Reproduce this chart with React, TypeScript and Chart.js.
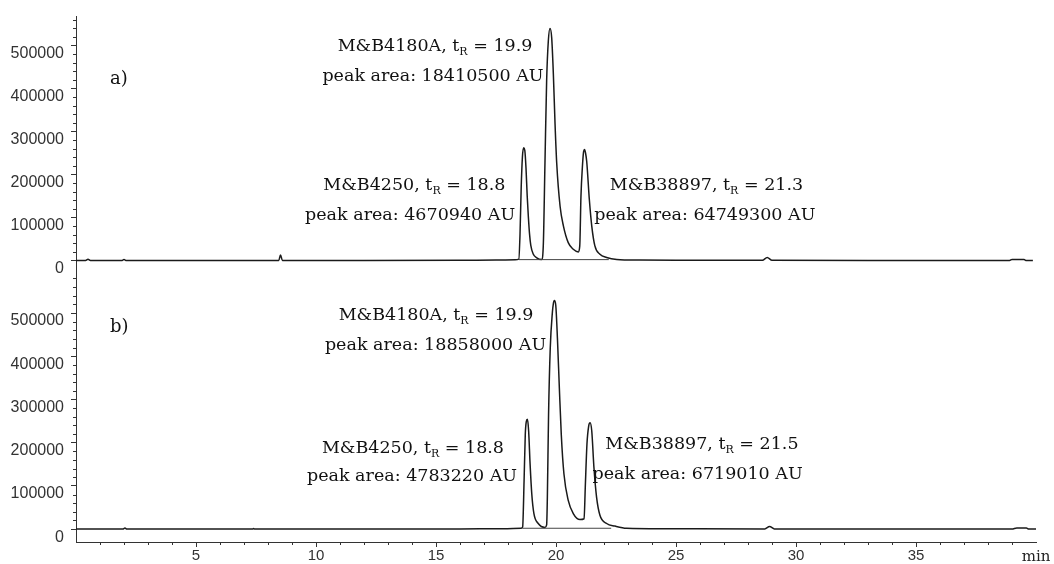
import React, { useEffect, useRef } from "react";
import { Chart, registerables } from "chart.js";

Chart.register(...registerables);

// ---- Chromatogram a) ----
const TIME_A = [
  0, 0.4, 0.5, 0.6, 1.9, 2.0, 2.1, 5.0, 8.45, 8.52, 8.6, 12.0, 16.0, 17.5, 18.3,
  18.45, 18.5, 18.55, 18.6, 18.65, 18.7, 18.75, 18.8, 18.85, 18.9, 18.95, 19.05, 19.2, 19.4,
  19.47, 19.54, 19.61, 19.68, 19.75, 19.82, 19.89, 19.96, 20.03, 20.17, 20.31, 20.51, 20.72, 20.93,
  20.99, 21.04, 21.1, 21.15, 21.19, 21.23, 21.28, 21.39, 21.49, 21.62, 21.83, 22.11, 22.53,
  23.5, 25.0, 28.6, 28.8, 29.0, 33.0, 38.9, 39.0, 39.5, 39.6, 39.87,
];
const SIGNAL_A = [
  0, 0, 3000, 0, 0, 2000, 0, 0, 0, 13000, 0, 0, 500, 1000, 1500,
  3000, 60000, 170000, 240000, 262000, 256000, 215000, 150000, 100000, 60000, 35000, 15000, 6000, 2000,
  34000, 226000, 418000, 510000, 539000, 518000, 433000, 318000, 226000, 126000, 80000, 41500, 26000, 20000,
  34000, 149000, 218000, 253000, 258000, 250000, 230000, 141000, 80000, 34000, 14500, 7000, 2500,
  1000, 500, 500, 7000, 500, 0, 0, 2500, 2000, 0, 0,
];
const BASE_TIME_A = [18.45, 22.2];
const BASE_SIGNAL_A = [2000, 2000];

// ---- Chromatogram b) ----
const TIME_B = [
  0, 1.95, 2.04, 2.12, 7.35, 7.4, 7.45, 12.0, 16.0, 17.8, 18.55,
  18.61, 18.67, 18.72, 18.76, 18.81, 18.86, 18.92, 18.99, 19.08, 19.26, 19.54,
  19.61, 19.64, 19.69, 19.76, 19.85, 19.89, 19.93, 19.99, 20.06, 20.14, 20.22, 20.33, 20.51, 20.72, 21.0,
  21.17, 21.22, 21.29, 21.36, 21.42, 21.49, 21.58, 21.69, 21.83, 22.11, 22.46, 22.94,
  24.5, 28.7, 28.9, 29.1, 33.0, 39.0, 39.2, 39.6, 39.7, 40.0,
];
const SIGNAL_B = [
  0, 0, 2500, 0, 0, 1500, 0, 0, 500, 1000, 2000,
  5000, 112000, 219000, 248000, 254000, 227000, 151000, 82000, 36000, 13000, 4000,
  10000, 74000, 265000, 418000, 502000, 522000, 529000, 518000, 441000, 326000, 219000, 128000, 66500, 36000, 22000,
  24000, 97000, 197000, 238000, 246000, 227000, 143000, 74000, 32000, 13000, 7000, 2000,
  1000, 500, 6000, 500, 0, 0, 2500, 2500, 0, 0,
];
const BASE_TIME_B = [18.6, 22.3];
const BASE_SIGNAL_B = [2000, 2000];

// ---- Axes ----
const X_TICKS = [5, 10, 15, 20, 25, 30, 35];
const Y_TICKS = [0, 100000, 200000, 300000, 400000, 500000];
const X_MINOR_STEP = 1;
const Y_MINOR_STEP = 20000;
const X_UNIT = "min";

// ---- Annotations ----
const PANEL_LABELS = ["a)", "b)"];
const NAMES = ["M&B4180A", "M&B4250", "M&B38897"];
const TR_A = ["19.9", "18.8", "21.3"];
const AREA_A = ["18410500", "4670940", "64749300"];
const TR_B = ["19.9", "18.8", "21.5"];
const AREA_B = ["18858000", "4783220", "6719010"];

// anchor positions in data coordinates (minutes, signal)
const LINE1_POS_A = [[14.96, 486000], [14.1, 163600], [26.27, 163600]];
const LINE2_POS_A = [[14.875, 417000], [13.92, 94500], [26.2, 94500]];
const LINE1_POS_B = [[15.0, 484000], [14.04, 176600], [26.08, 185800]];
const LINE2_POS_B = [[14.98, 415000], [14.0, 112400], [25.9, 117000]];
const PANEL_LABEL_POS = [[1.42, 410000], [1.42, 456500]];

const SERIF = '"DejaVu Serif", serif';
const SANS = '"Liberation Sans", Arial, sans-serif';

function pts(t: number[], v: number[]) {
  return t.map((x, i) => ({ x, y: v[i] }));
}

function drawTR(ctx: CanvasRenderingContext2D, name: string, tr: string, cx: number, y: number) {
  const main = `17.5px ${SERIF}`;
  const sub = `11px ${SERIF}`;
  const a = name + ", t";
  const b = " = " + tr;
  ctx.font = main;
  const wA = ctx.measureText(a).width;
  const wB = ctx.measureText(b).width;
  ctx.font = sub;
  const wS = ctx.measureText("R").width;
  let x = cx - (wA + wS + wB) / 2;
  ctx.font = main;
  ctx.fillText(a, x, y);
  x += wA;
  ctx.font = sub;
  ctx.fillText("R", x, y + 4);
  x += wS;
  ctx.font = main;
  ctx.fillText(b, x, y);
}

const overlayPlugin = {
  id: "overlay",
  afterDraw(chart: any) {
    const ctx: CanvasRenderingContext2D = chart.ctx;
    const xs = chart.scales.x;
    const ya = chart.scales.yA;
    const yb = chart.scales.yB;
    ctx.save();
    ctx.strokeStyle = "#333";
    ctx.lineWidth = 1;
    // minor y ticks
    [ya, yb].forEach((s: any) => {
      for (let v = 0; v <= s.max; v += Y_MINOR_STEP) {
        if (v % 100000 === 0) continue;
        const py = Math.round(s.getPixelForValue(v)) + 0.5;
        if (py < s.top || py > s.bottom) continue;
        ctx.beginPath();
        ctx.moveTo(s.right - 3, py);
        ctx.lineTo(s.right + 1, py);
        ctx.stroke();
      }
    });
    // minor x ticks
    for (let t = X_MINOR_STEP; t < xs.max; t += X_MINOR_STEP) {
      if (t % 5 === 0) continue;
      const px = Math.round(xs.getPixelForValue(t)) + 0.5;
      ctx.beginPath();
      ctx.moveTo(px, xs.top);
      ctx.lineTo(px, xs.top + 3);
      ctx.stroke();
    }
    // unit label
    ctx.fillStyle = "#222";
    ctx.font = `15px ${SERIF}`;
    ctx.textAlign = "center";
    ctx.textBaseline = "alphabetic";
    ctx.fillText(X_UNIT, xs.getPixelForValue(xs.max), xs.top + 19);

    // annotations
    ctx.fillStyle = "#111";
    ctx.textAlign = "left";
    const panels = [
      { s: ya, tr: TR_A, area: AREA_A, l1: LINE1_POS_A, l2: LINE2_POS_A },
      { s: yb, tr: TR_B, area: AREA_B, l1: LINE1_POS_B, l2: LINE2_POS_B },
    ];
    panels.forEach((p, pi) => {
      NAMES.forEach((name, i) => {
        const cx1 = xs.getPixelForValue(p.l1[i][0]);
        const y1 = p.s.getPixelForValue(p.l1[i][1]);
        drawTR(ctx, name, p.tr[i], cx1, y1);
        ctx.font = `17.5px ${SERIF}`;
        const txt = `peak area: ${p.area[i]} AU`;
        const w = ctx.measureText(txt).width;
        const cx2 = xs.getPixelForValue(p.l2[i][0]);
        const y2 = p.s.getPixelForValue(p.l2[i][1]);
        ctx.fillText(txt, cx2 - w / 2, y2);
      });
      ctx.font = `18px ${SERIF}`;
      ctx.fillText(
        PANEL_LABELS[pi],
        xs.getPixelForValue(PANEL_LABEL_POS[pi][0]),
        p.s.getPixelForValue(PANEL_LABEL_POS[pi][1])
      );
    });
    ctx.restore();
  },
};

function yScale(weight: number, min: number, max: number) {
  return {
    type: "linear" as const,
    position: "left" as const,
    stack: "panels",
    stackWeight: weight,
    min,
    max,
    afterBuildTicks: (s: any) => {
      s.ticks = Y_TICKS.map((v) => ({ value: v }));
    },
    afterFit: (s: any) => {
      s.width = 76;
    },
    grid: { display: true, drawOnChartArea: false, drawTicks: true, tickLength: 5, tickColor: "#333", tickWidth: 1 },
    border: { display: true, color: "#333", width: 1 },
    ticks: {
      color: "#333",
      font: { family: SANS, size: 16 },
      padding: 7,
      labelOffset: 8,
      autoSkip: false,
      callback: (v: any) => String(v),
    },
  };
}

export default function App() {
  const ref = useRef<HTMLCanvasElement>(null);
  useEffect(() => {
    const canvas = ref.current;
    if (!canvas) return;
    const lineStyle = {
      borderColor: "#1a1a1a",
      borderWidth: 1.5,
      pointRadius: 0,
      fill: false,
      cubicInterpolationMode: "monotone" as const,
    };
    const baseStyle = { borderColor: "#444", borderWidth: 1, pointRadius: 0, fill: false };
    const chart = new Chart(canvas, {
      type: "line",
      data: {
        datasets: [
          { ...baseStyle, data: pts(BASE_TIME_A, BASE_SIGNAL_A), yAxisID: "yA" },
          { ...lineStyle, data: pts(TIME_A, SIGNAL_A), yAxisID: "yA" },
          { ...baseStyle, data: pts(BASE_TIME_B, BASE_SIGNAL_B), yAxisID: "yB" },
          { ...lineStyle, data: pts(TIME_B, SIGNAL_B), yAxisID: "yB" },
        ],
      },
      options: {
        responsive: false,
        animation: false,
        devicePixelRatio: 1,
        layout: { padding: { top: 12, right: 18, left: 0, bottom: 0 } },
        plugins: { legend: { display: false }, tooltip: { enabled: false } },
        scales: {
          x: {
            type: "linear",
            position: "bottom",
            min: 0,
            max: 40,
            afterBuildTicks: (s: any) => {
              s.ticks = X_TICKS.map((v) => ({ value: v }));
            },
            afterFit: (s: any) => {
              s.height = 22;
            },
            grid: { display: true, drawOnChartArea: false, drawTicks: true, tickLength: 5, tickColor: "#333", tickWidth: 1 },
            border: { display: true, color: "#333", width: 1 },
            ticks: {
              color: "#333",
              font: { family: SANS, size: 15 },
              padding: 0,
              maxRotation: 0,
              autoSkip: false,
              callback: (v: any) => String(v),
            },
          },
          yB: yScale(274, -29800, 598700),
          yA: yScale(256, -23000, 566800),
        } as any,
      },
      plugins: [overlayPlugin],
    });
    return () => chart.destroy();
  }, []);
  return (
    <div style={{ position: "fixed", left: 0, top: 0, width: 1054, height: 564, background: "#fff" }}>
      <canvas ref={ref} width={1054} height={564} style={{ display: "block", width: 1054, height: 564 }} />
    </div>
  );
}
